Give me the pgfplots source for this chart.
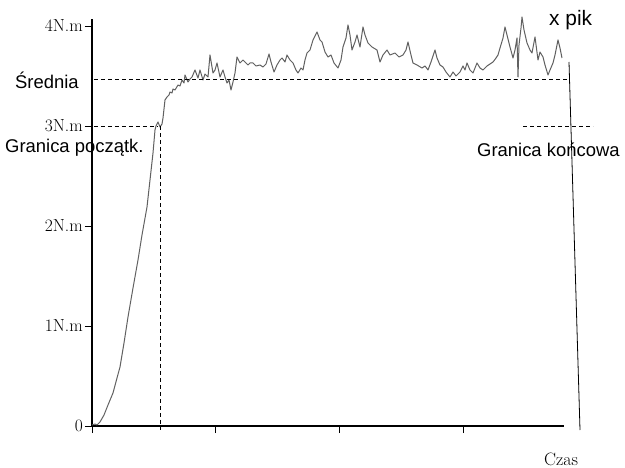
\documentclass[border=0pt]{standalone}
\usepackage{pgfplots}
\pgfplotsset{compat=1.18}
\usepackage{fontspec}
\newfontfamily\lab{Liberation Sans}
\begin{document}
\begin{tikzpicture}
\useasboundingbox (-92bp,-42bp) rectangle (533bp,426bp);
\begin{axis}[
  at={(0,0)}, anchor=south west,
  scale only axis, width=472bp, height=407bp,
  xmin=0, xmax=472, ymin=0, ymax=4.07,
  clip=false,
  axis x line*=bottom, axis y line*=left,
  x axis line style={line width=2.6bp, black, -},
  y axis line style={line width=1.1bp, black, -},
  xtick={0,123,247,371}, xticklabels={,,,},
  ytick={0,1,2,3,4},
  yticklabels={0,1N.m,2N.m,3N.m,4N.m},
  tick align=outside,
  major tick length=7bp,
  tick style={black, line width=0.8bp},
  yticklabel style={font=\fontsize{17.5}{17.5}\selectfont, inner sep=2bp},
]
\addplot[color=black!62, line width=1bp, line join=round] coordinates {
(0,0.01)(3,0.02)(5,0.01)(8,0.04)(12,0.11)(16,0.21)(21,0.33)(25,0.48)(28,0.59)
(32,0.83)(36,1.09)(41,1.38)(46,1.66)(50,1.91)(55,2.19)(58,2.46)(61,2.73)
(63,2.96)(64,3.00)(66,3.04)(68,2.99)(70,3.02)(71,3.08)(73,3.26)(75,3.29)
(77,3.31)(78,3.34)(80,3.33)(81,3.37)(83,3.36)(86,3.41)(88,3.40)(90,3.46)
(92,3.43)(93,3.51)(96,3.44)(98,3.47)(100,3.49)(103,3.56)(106,3.48)(108,3.56)
(111,3.46)(113,3.52)(116,3.49)(118,3.71)(121,3.53)(123,3.56)(125,3.63)
(128,3.49)(131,3.56)(133,3.49)(135,3.43)(137,3.46)(139,3.36)(141,3.44)
(143,3.53)(145,3.69)(148,3.63)(151,3.66)(153,3.64)(156,3.61)(158,3.63)
(161,3.63)(164,3.60)(168,3.61)(171,3.59)(174,3.62)(177,3.72)(179,3.64)
(182,3.54)(185,3.61)(188,3.66)(190,3.68)(193,3.64)(195,3.71)(198,3.66)
(201,3.63)(204,3.56)(206,3.53)(209,3.58)(211,3.56)(213,3.66)(215,3.73)
(218,3.76)(221,3.86)(225,3.94)(228,3.86)(230,3.84)(233,3.74)(236,3.69)
(239,3.71)(242,3.63)(246,3.58)(249,3.66)(251,3.79)(254,3.88)(256,4.01)
(258,3.91)(260,3.76)(263,3.84)(265,3.91)(268,3.79)(271,3.99)(273,3.91)
(276,3.83)(280,3.79)(285,3.76)(288,3.64)(291,3.71)(295,3.76)(298,3.71)
(303,3.73)(307,3.69)(311,3.71)(314,3.76)(316,3.84)(319,3.71)(321,3.63)
(325,3.61)(330,3.58)(333,3.60)(336,3.56)(339,3.64)(343,3.76)(345,3.68)
(348,3.61)(351,3.59)(354,3.54)(358,3.49)(361,3.54)(364,3.50)(368,3.54)
(371,3.60)(373,3.56)(375,3.63)(378,3.56)(381,3.53)(383,3.58)(385,3.63)
(388,3.58)(391,3.56)(395,3.60)(398,3.62)(401,3.64)(404,3.68)(406,3.71)
(408,3.78)(411,3.88)(413,3.99)(415,3.91)(418,3.79)(421,3.68)(423,3.76)
(425,3.88)(426,3.49)(427,3.81)(429,3.98)(430,4.09)(432,3.96)(435,3.83)
(438,3.76)(440,3.73)(443,3.89)(446,3.66)(448,3.74)(451,3.69)(453,3.61)
(456,3.51)(458,3.56)(461,3.63)(463,3.71)(466,3.86)(468,3.78)(470,3.68)
};
% reference lines
\addplot[black, line width=0.9bp, dash pattern=on 4bp off 3bp] coordinates {(2,3.47)(476,3.47)};
\addplot[black, line width=0.9bp, dash pattern=on 4bp off 3bp] coordinates {(2,3)(66,3)};
\addplot[black, line width=0.9bp, dash pattern=on 4bp off 3bp] coordinates {(68,3)(68,-0.04)};
\addplot[black, line width=0.9bp, dash pattern=on 4bp off 3bp] coordinates {(431,3)(501,3)};
\addplot[black, line width=0.8bp] coordinates {(477,3.64)(488,-0.04)};
% labels
\node[anchor=base west, inner sep=0pt, font=\lab\fontsize{18.5}{18.5}\selectfont] at (axis cs:-77,3.37) {Średnia};
\node[anchor=base west, inner sep=0pt, font=\lab\fontsize{18.5}{18.5}\selectfont] at (axis cs:-87,2.73) {Granica początk.};
\node[anchor=base west, inner sep=0pt, font=\lab\fontsize{18.5}{18.5}\selectfont] at (axis cs:385,2.69) {Granica końcowa};
\node[anchor=base west, inner sep=0pt, font=\lab\fontsize{21}{21}\selectfont] at (axis cs:457,4.00) {x pik};
\node[anchor=center, inner sep=0pt, font=\fontsize{18}{18}\selectfont] at (axis cs:469,-0.33) {Czas};
\end{axis}
\end{tikzpicture}
\end{document}
